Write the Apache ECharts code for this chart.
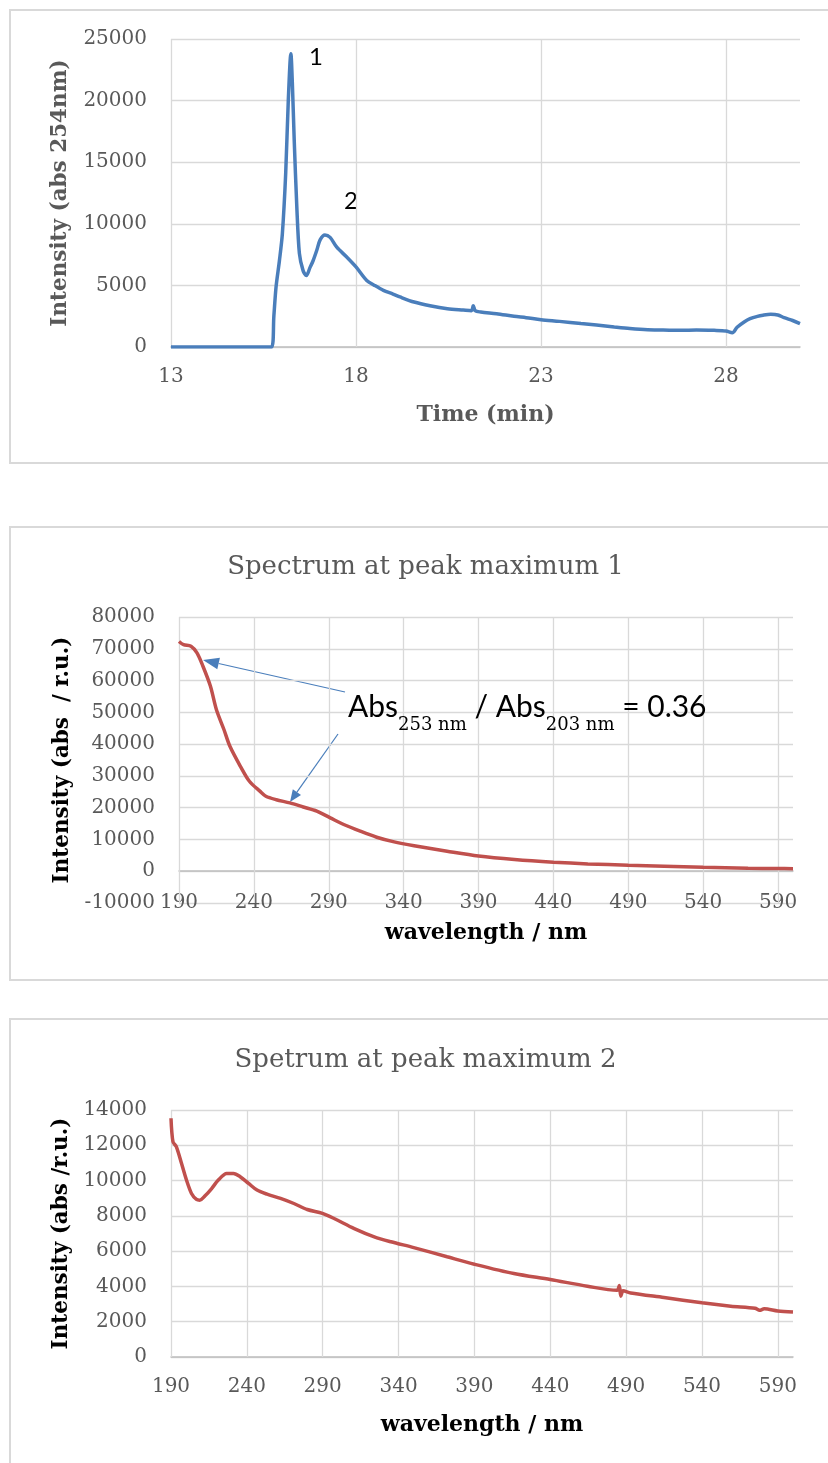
<!DOCTYPE html>
<html><head><meta charset="utf-8">
<script src="https://cdn.jsdelivr.net/npm/echarts@6/dist/echarts.min.js"></script>
<style>html,body{margin:0;padding:0;background:#fff}#c{width:828px;height:1463px}</style>
</head><body><div id="c"></div>
<script>
// ---- Chart 1: chromatogram (abs 254 nm) ----
const timeMin = [13, 14, 15, 15.5, 15.72, 15.78, 15.84, 15.93, 16.01, 16.1, 16.17, 16.24, 16.28, 16.33, 16.4, 16.47, 16.57, 16.66, 16.75, 16.84, 16.94, 17.03, 17.16, 17.3, 17.48, 17.75, 18, 18.29, 18.5, 18.74, 19, 19.19, 19.57, 20, 20.47, 20.9, 21.12, 21.17, 21.22, 21.37, 21.8, 22.27, 22.6, 23, 23.5, 24.08, 24.5, 24.98, 25.4, 25.88, 26.3, 26.78, 27.2, 27.68, 28, 28.17, 28.3, 28.49, 28.65, 28.85, 29.0, 29.21, 29.4, 29.57, 29.8, 30];
const absorb254 = [0, 0, 0, 0, 0, 2500, 4900, 7000, 9200, 14100, 20000, 23800, 21400, 16800, 11400, 7600, 6200, 5800, 6400, 7000, 7850, 8700, 9100, 8900, 8100, 7300, 6500, 5400, 5000, 4600, 4300, 4060, 3650, 3350, 3110, 3000, 2950, 3350, 2950, 2840, 2700, 2490, 2380, 2220, 2080, 1900, 1780, 1625, 1500, 1400, 1380, 1350, 1380, 1350, 1300, 1160, 1600, 2030, 2300, 2490, 2580, 2650, 2600, 2380, 2150, 1900];
const timeTicks = [13, 18, 23, 28];

// ---- Chart 2: spectrum at peak maximum 1 ----
const wl1 = [190, 193, 198, 202, 206, 211, 215, 220, 224, 231, 237, 244, 248, 255, 264, 273, 282, 291, 300, 311, 322, 333, 347, 369, 390, 414, 440, 463, 490, 514, 540, 570, 590, 600];
const spec1 = [72300, 71300, 70800, 68700, 64500, 58200, 50800, 44600, 39300, 33000, 28300, 25200, 23600, 22500, 21500, 20200, 18900, 16800, 14700, 12600, 10700, 9300, 8000, 6300, 4800, 3700, 2850, 2300, 1900, 1600, 1250, 950, 850, 800];

// ---- Chart 3: spectrum at peak maximum 2 ----
const wl2 = [190, 191.3, 193.5, 196.9, 200.2, 203.5, 206.8, 209, 212.3, 216.8, 221.2, 226.7, 231.2, 235.6, 241.1, 246.7, 253.3, 262.2, 271, 279.8, 289.8, 297.5, 310.8, 324, 335, 350, 372, 390, 416, 440, 464.5, 484, 485.5, 486.5, 488, 493, 515, 540, 559, 575, 578, 581, 590, 600];
const spec2 = [13530, 12200, 11920, 10980, 10030, 9270, 8930, 8890, 9120, 9550, 10030, 10400, 10400, 10220, 9840, 9460, 9230, 8990, 8700, 8360, 8140, 7850, 7280, 6810, 6530, 6200, 5680, 5260, 4730, 4390, 4010, 3780, 4050, 3450, 3750, 3630, 3370, 3070, 2880, 2760, 2650, 2730, 2610, 2550];
const wlTicks = [190, 240, 290, 340, 390, 440, 490, 540, 590];

const titles = ['Spectrum at peak maximum 1', 'Spetrum at peak maximum 2'];
const peakLabels = ['1', '2'];

const SERIF = 'DejaVu Serif';
const GRID = '#d9d9d9';
const AXIS = '#bfbfbf';
const LABEL = '#595959';

function zip(a, b) { return a.map((v, i) => [v, b[i]]); }
const fmt = v => String(v);

function xAxis(gi, min, max, interval, name, nameColor, margin, nameGap, onZero) {
  return {
    type: 'value', gridIndex: gi, min, max, interval,
    axisLine: { show: true, onZero: onZero, lineStyle: { color: AXIS, width: 1.5 } },
    axisTick: { show: false },
    splitLine: { show: false },
    axisLabel: { color: LABEL, fontFamily: SERIF, fontSize: 20, margin, showMaxLabel: false, formatter: fmt },
    name, nameLocation: 'middle', nameGap,
    nameTextStyle: { fontFamily: SERIF, fontWeight: 'bold', fontSize: 22, color: nameColor }
  };
}
function yAxis(gi, min, max, interval, name, nameColor, nameGap) {
  return {
    type: 'value', gridIndex: gi, min, max, interval,
    axisLine: { show: false }, axisTick: { show: false },
    splitLine: { show: true, lineStyle: { color: GRID, width: 1.3 } },
    axisLabel: { color: LABEL, fontFamily: SERIF, fontSize: 20, margin: 24, formatter: fmt },
    name, nameLocation: 'middle', nameGap, nameRotate: 90,
    nameTextStyle: { fontFamily: SERIF, fontWeight: 'bold', fontSize: 21.5, color: nameColor }
  };
}
function vGrid(ticks) {
  return {
    silent: true, z: 1, symbol: ['none', 'none'], animation: false,
    label: { show: false }, emphasis: { disabled: true },
    lineStyle: { color: GRID, width: 1.3, type: 'solid' },
    data: ticks.map(t => ({ xAxis: t }))
  };
}
function lineSeries(gi, data, color, ticks) {
  return {
    type: 'line', xAxisIndex: gi, yAxisIndex: gi, data, showSymbol: false,
    smooth: 0.3, z: 3, animation: false,
    lineStyle: { color, width: 3.5 }, itemStyle: { color },
    markLine: vGrid(ticks)
  };
}
function arrow(x1, y1, x2, y2, len, hw, color) {
  const dx = x2 - x1, dy = y2 - y1, L = Math.hypot(dx, dy), ux = dx / L, uy = dy / L;
  const bx = x2 - ux * len, by = y2 - uy * len;
  return [
    { type: 'line', shape: { x1, y1, x2: bx, y2: by }, style: { stroke: color, lineWidth: 1.2 } },
    { type: 'polygon', shape: { points: [[x2, y2], [bx - uy * hw, by + ux * hw], [bx + uy * hw, by - ux * hw]] }, style: { fill: color } }
  ];
}
function box(y, h) {
  return { type: 'rect', shape: { x: 10, y, width: 840, height: h }, style: { fill: 'none', stroke: GRID, lineWidth: 2 }, z: -1 };
}
const ARROW = '#4a7ebb';

const option = {
  backgroundColor: '#fff',
  animation: false,
  grid: [
    { left: 171, top: 39, width: 629, height: 308, containLabel: false, outerBoundsMode: 'none' },
    { left: 179, top: 617, width: 614, height: 286, containLabel: false, outerBoundsMode: 'none' },
    { left: 171, top: 1110, width: 622, height: 247, containLabel: false, outerBoundsMode: 'none' }
  ],
  xAxis: [
    xAxis(0, 13, 30, 5, 'Time (min)', LABEL, 20, 57, false),
    xAxis(1, 190, 600, 50, 'wavelength / nm', '#000', -10, 19, true),
    xAxis(2, 190, 600, 50, 'wavelength / nm', '#000', 20, 57, false)
  ],
  yAxis: [
    yAxis(0, 0, 25000, 5000, 'Intensity (abs 254nm)', LABEL, 100),
    yAxis(1, -10000, 80000, 10000, 'Intensity (abs  / r.u.)', '#000', 106),
    yAxis(2, 0, 14000, 2000, 'Intensity (abs /r.u.)', '#000', 98)
  ],
  series: [
    lineSeries(0, zip(timeMin, absorb254), '#4a7ebb', timeTicks),
    lineSeries(1, zip(wl1, spec1), '#c0504d', wlTicks),
    lineSeries(2, zip(wl2, spec2), '#c0504d', wlTicks)
  ],
  graphic: [
    box(10, 453), box(527, 453), box(1019, 470),
    { type: 'text', x: 425.5, y: 567, style: { text: titles[0], font: '26px "DejaVu Serif"', fill: LABEL, align: 'center', verticalAlign: 'middle' } },
    { type: 'text', x: 425.5, y: 1060, style: { text: titles[1], font: '26px "DejaVu Serif"', fill: LABEL, align: 'center', verticalAlign: 'middle' } },
    { type: 'text', x: 316, y: 57, style: { text: peakLabels[0], font: '24px Lato', fill: '#000', align: 'center', verticalAlign: 'middle' } },
    { type: 'text', x: 351, y: 201, style: { text: peakLabels[1], font: '24px Lato', fill: '#000', align: 'center', verticalAlign: 'middle' } },
    { type: 'text', x: 348, y: 692, z: 10, style: {
        text: '{m|Abs}{s|253 nm}{m| / Abs}{s|203 nm}{m| = 0.36}',
        verticalAlign: 'top', align: 'left',
        rich: {
          m: { fontFamily: 'Lato', fontSize: 30, fill: '#000', padding: [0, 0, 12, 0], verticalAlign: 'bottom' },
          s: { fontFamily: SERIF, fontSize: 18, fill: '#000', verticalAlign: 'bottom' }
        }
      } },
    ...arrow(345, 692, 203, 660, 16, 6, ARROW),
    ...arrow(338, 734, 290, 802, 12, 5, ARROW)
  ]
};
const chart = echarts.init(document.getElementById('c'), null, { renderer: 'canvas' });
chart.setOption(option);
</script>
</body></html>
